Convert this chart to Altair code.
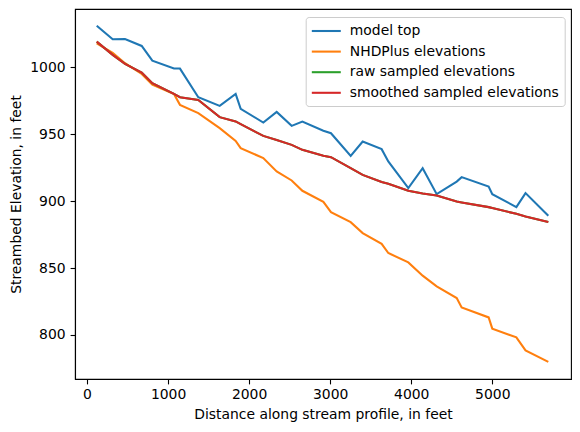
import altair as alt
import pandas as pd

distance = [120, 317, 469, 675, 806, 1073, 1147, 1373, 1637, 1834, 1896, 2175, 2340, 2525, 2657,
            2916, 3010, 3253, 3401, 3635, 3717, 3964, 4141, 4314, 4561, 4622, 4955, 5000, 5297, 5410, 5691]

model_top = [1031, 1020.9, 1021.1, 1015.9, 1004.9, 999, 999, 977.6, 971.1, 980.1, 968.9, 958.7, 966.6, 956.2, 959.4,
             952.5, 950.7, 933.8, 944.5, 938.8, 929.6, 909.7, 924.6, 905.2, 914.6, 917.9, 910.9, 905.2, 895.5, 906, 889]

nhdplus = [1017.9, 1010.7, 1003, 995, 987, 980, 971.9, 965.7, 954.5, 945, 939.6, 932.1, 922.1, 915.4, 907.7,
           899.5, 891.8, 884.3, 876.1, 868.1, 861.2, 854.2, 844.3, 836.3, 827.6, 820.6, 813.1, 804.7, 798.2, 788.5, 779.9]

raw_sampled = [1019.1, 1009.2, 1002.5, 996, 988.1, 980.1, 977.6, 975.6, 962.7, 959.5, 957.5, 948.7, 945.7, 942, 938.3,
               933.8, 932.8, 924.6, 919.6, 914.2, 912.9, 907.7, 905.7, 904.2, 899.7, 899, 895.5, 894.8, 890.5, 888.5, 884.3]

smoothed = [1019.1, 1009.2, 1002.5, 996, 988.1, 980.1, 977.6, 975.6, 962.7, 959.5, 957.5, 948.7, 945.7, 942, 938.3,
            933.8, 932.8, 924.6, 919.6, 914.2, 912.9, 907.7, 905.7, 904.2, 899.7, 899, 895.5, 894.8, 890.5, 888.5, 884.3]

series_names = ["model top", "NHDPlus elevations", "raw sampled elevations", "smoothed sampled elevations"]
series_values = [model_top, nhdplus, raw_sampled, smoothed]
series_colors = ["#1f77b4", "#ff7f0e", "#2ca02c", "#d62728"]

rows = []
for k, (name, vals) in enumerate(zip(series_names, series_values)):
    for i, (d, v) in enumerate(zip(distance, vals)):
        rows.append({"series": name, "order": k, "idx": i, "distance": d, "elev": v})
df = pd.DataFrame(rows)

FONT = "DejaVu Sans"
FS = 13.9

chart = alt.Chart(df).mark_line(strokeWidth=2.08, clip=True).encode(
    x=alt.X("distance:Q",
            scale=alt.Scale(domain=[-148, 5971], nice=False, zero=False),
            axis=alt.Axis(title="Distance along stream profile, in feet", values=[0, 1000, 2000, 3000, 4000, 5000],
                          format="d", grid=False, labelPadding=3.5, titlePadding=6.5)),
    y=alt.Y("elev:Q",
            scale=alt.Scale(domain=[767.1, 1043.5], nice=False, zero=False),
            axis=alt.Axis(title="Streambed Elevation, in feet", values=[800, 850, 900, 950, 1000],
                          format="d", grid=False, labelPadding=5, titlePadding=6.5)),
    color=alt.Color("series:N",
                    scale=alt.Scale(domain=series_names, range=series_colors),
                    legend=alt.Legend(title=None, orient="none", legendX=230.7, legendY=8,
                                      symbolType="M-2,0H2", symbolSize=210, symbolStrokeWidth=2.08,
                                      symbolOffset=6.6, labelOffset=15, rowPadding=4.6, padding=5.5,
                                      labelFont=FONT, labelFontSize=FS, labelColor="black", labelLimit=400,
                                      fillColor="white", strokeColor="#cccccc", cornerRadius=3)),
    detail="order:O",
    order="idx:Q",
).properties(
    width=496, height=370,
    autosize=alt.AutoSizeParams(type="none"),
    padding={"left": 67, "top": 1, "right": 1, "bottom": 45},
).configure_view(
    stroke="black", strokeWidth=1.1
).configure_axis(
    labelFont=FONT, labelFontSize=FS, labelColor="black",
    titleFont=FONT, titleFontSize=FS, titleColor="black", titleFontWeight="normal",
    domainColor="black", domainWidth=1.1, tickColor="black", tickWidth=1.1, tickSize=4.9,
)

chart.save("out.html", embed_options={"renderer": "svg", "actions": False})
